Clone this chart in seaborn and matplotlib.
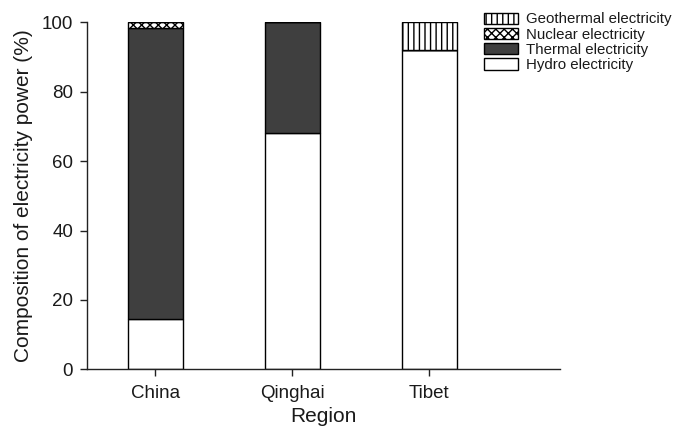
import matplotlib
matplotlib.use('Agg')
import matplotlib.pyplot as plt
import matplotlib.patches as mpatches
import seaborn as sns
import pandas as pd

# Datos (%)
regions = ['China', 'Qinghai', 'Tibet']
hydro = [14.4, 68.0, 92.0]
thermal = [83.9, 32.0, 0.0]
nuclear = [1.7, 0.0, 0.0]
geothermal = [0.0, 0.0, 8.0]

sns.set_style('ticks')
plt.rcParams['font.family'] = ['Liberation Sans', 'DejaVu Sans']
plt.rcParams['hatch.linewidth'] = 1.0
plt.rcParams['hatch.color'] = 'black'

df = pd.DataFrame({'Region': regions, 'Hydro': hydro, 'Thermal': thermal,
                   'Nuclear': nuclear, 'Geothermal': geothermal})

fig = plt.figure(figsize=(6.77, 4.30), dpi=100)
ax = fig.add_axes([0.1285, 0.141, 0.698, 0.807])

layers = [('Hydro', 'white', None),
          ('Thermal', '#3f3f3f', None),
          ('Nuclear', 'white', 'xxxx'),
          ('Geothermal', 'white', '|||')]

bottom = [0.0] * len(regions)
for col, color, hatch in layers:
    vals = df[col].tolist()
    sns.barplot(data=df, x='Region', y=col, color=color, width=0.4,
                bottom=bottom, hatch=hatch, edgecolor='black', linewidth=1.0,
                saturation=1, ax=ax)
    bottom = [b + v for b, v in zip(bottom, vals)]

ax.set_xlim(-0.5, 2.95)
ax.set_ylim(0, 100)
ax.set_yticks([0, 20, 40, 60, 80, 100])
sns.despine(ax=ax)
for s in ['left', 'bottom']:
    ax.spines[s].set_color('#222222')
    ax.spines[s].set_linewidth(1.0)
ax.tick_params(axis='both', length=5, width=1.0, color='#222222',
               labelsize=13.5, labelcolor='#1a1a1a')
ax.tick_params(axis='x', pad=6)
ax.tick_params(axis='y', pad=5)

ax.set_xlabel('Region', fontsize=15, color='#1a1a1a', labelpad=4)
ax.set_ylabel('Composition of electricity power (%)', fontsize=15,
              color='#1a1a1a', labelpad=6)

handles = [mpatches.Patch(facecolor='white', edgecolor='black', hatch='|||', label='Geothermal electricity'),
           mpatches.Patch(facecolor='white', edgecolor='black', hatch='xxxx', label='Nuclear electricity'),
           mpatches.Patch(facecolor='#3f3f3f', edgecolor='black', label='Thermal electricity'),
           mpatches.Patch(facecolor='white', edgecolor='black', label='Hydro electricity')]
fig.legend(handles=handles, loc='upper left', bbox_to_anchor=(476 / 677, 1 - 5 / 430),
           frameon=False, fontsize=10.8, borderpad=0, handlelength=2.27,
           handleheight=0.8, handletextpad=0.55, labelspacing=0.08,
           labelcolor='#1a1a1a')

fig.savefig('out.png', dpi=100)
